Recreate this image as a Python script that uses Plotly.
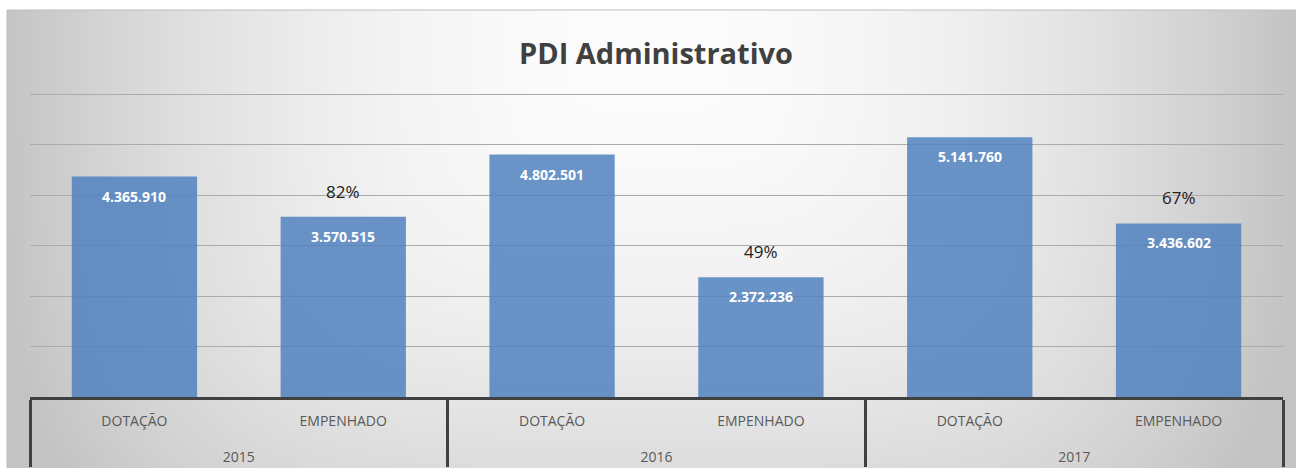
import plotly.graph_objects as go
import numpy as np
import zlib, struct, base64

# ---------------- data ----------------
years = ["2015", "2016", "2017"]
categories = ["DOTAÇÃO", "EMPENHADO"]
dotacao = [4365910, 4802501, 5141760]
empenhado = [3570515, 2372236, 3436602]
title = "PDI Administrativo"

# ---------------- build ----------------
xs_year, xs_cat, vals = [], [], []
for y, d, e in zip(years, dotacao, empenhado):
    xs_year += [y, y]
    xs_cat += [c + "<br><span style='font-size:32px'>&nbsp;</span>" for c in categories]
    vals += [d, e]

def br(v):
    return f"{v:,}".replace(",", ".")

# background gradient image (grey edges, light centre)
W, H = 322, 115
gx = (np.arange(W) + 0.5) / W * 1289 + 7
gy = (np.arange(H) + 0.5) / H * 458 + 10
X, Y = np.meshgrid(gx, gy)
dx = np.abs(X - 648) / 641
dy = np.abs(Y - 40) / 570
d = (dx ** 4 + dy ** 4) ** 0.25
img = np.clip(252 - 55 * d ** 2, 195, 253).astype(np.uint8)

def png_gray(arr):
    h, w = arr.shape
    raw = b"".join(b"\x00" + arr[i].tobytes() for i in range(h))
    def chunk(t, dd):
        c = struct.pack(">I", len(dd)) + t + dd
        return c + struct.pack(">I", zlib.crc32(t + dd) & 0xFFFFFFFF)
    return (b"\x89PNG\r\n\x1a\n"
            + chunk(b"IHDR", struct.pack(">IIBBBBB", w, h, 8, 0, 0, 0, 0))
            + chunk(b"IDAT", zlib.compress(raw, 9))
            + chunk(b"IEND", b""))

src = "data:image/png;base64," + base64.b64encode(png_gray(img)).decode()

FONT = "Open Sans"
fig = go.Figure()
fig.add_trace(go.Bar(
    x=[xs_year, xs_cat], y=vals,
    marker=dict(color="rgba(79,129,189,0.84)", line=dict(width=0)),
    hoverinfo="skip",
))

ann = []
for i, v in enumerate(vals):
    ann.append(dict(x=i, y=v, xref="x", yref="y", text=f"<b>{br(v)}</b>",
                    showarrow=False, yanchor="top", yshift=-8,
                    font=dict(family=FONT, size=14, color="white")))
for k, (d_, e_) in enumerate(zip(dotacao, empenhado)):
    pct = round(e_ / d_ * 100)
    ann.append(dict(x=2 * k + 1, y=e_, xref="x", yref="y", text=f"{pct}%",
                    showarrow=False, yanchor="bottom", yshift=12,
                    font=dict(family=FONT, size=17, color="#202020")))

L, R, T, B = 30, 13, 91, 71
PW, PH = 1296 - L - R, 468 - T - B

fig.update_layout(
    width=1296, height=468,
    margin=dict(l=L, r=R, t=T, b=B, pad=0, autoexpand=False),
    paper_bgcolor="white", plot_bgcolor="rgba(0,0,0,0)",
    bargap=0.4,
    showlegend=False,
    title=dict(text=f"<b>{title}</b>", x=656 / 1296, xanchor="center", y=1 - 54 / 468,
               yanchor="middle", font=dict(family=FONT, size=29, color="#404040")),
    font=dict(family=FONT),
    annotations=ann,
    images=[dict(source=src, xref="paper", yref="paper",
                 x=(7 - L) / PW, y=(468 - B - 10) / PH,
                 sizex=1289 / PW, sizey=460 / PH, sizing="stretch",
                 xanchor="left", yanchor="top", layer="below")],
    shapes=[dict(type="rect", xref="paper", yref="paper",
                 x0=(7 - L) / PW, x1=(1296 - L) / PW + 0.01,
                 y0=(468 - B - 468) / PH - 0.05, y1=(468 - B - 10) / PH,
                 line=dict(color="#bdbdbd", width=1), layer="below")],
    yaxis=dict(range=[0, 6.06e6], dtick=1e6, showticklabels=False,
               gridcolor="#ababab", gridwidth=1, zeroline=False,
               showline=False, fixedrange=True, automargin=False),
    xaxis=dict(type="multicategory", showline=True, linecolor="#404040",
               linewidth=2.5, showgrid=False, automargin=False,
               tickfont=dict(family=FONT, size=14, color="#595959"),
               ticklabelstandoff=9,
               showdividers=True, dividercolor="#404040", dividerwidth=2.5,
               ticks="", fixedrange=True),
)

fig.write_html("out.html", post_script="document.body.style.margin='0';",
               config={"displayModeBar": False})
